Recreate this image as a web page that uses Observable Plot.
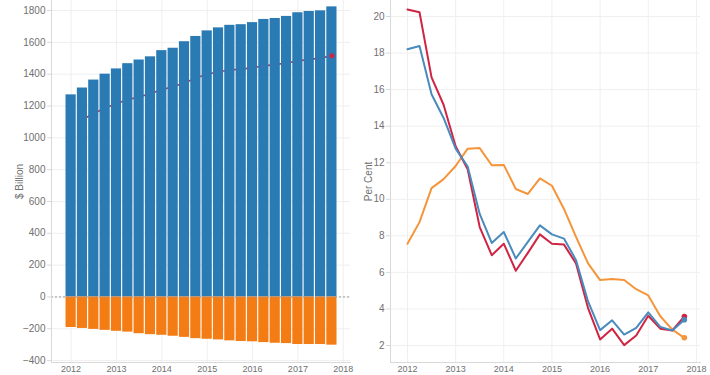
<!DOCTYPE html>
<html>
<head>
<meta charset="utf-8">
<script src="https://cdn.jsdelivr.net/npm/d3@7"></script>
<script src="https://cdn.jsdelivr.net/npm/@observablehq/plot@0.6"></script>
<style>
  html, body { margin: 0; padding: 0; background: #fff; overflow: hidden; }
  #wrap { display: flex; width: 710px; }
  #wrap svg { display: block; }
</style>
</head>
<body>
<div id="wrap"><div id="left"></div><div id="right"></div></div>
<script>
// ---- data (quarterly, 24 quarters) ----
const yearLabels = ["2012", "2013", "2014", "2015", "2016", "2017", "2018"];
const yearTicks = [0, 4, 8, 12, 16, 20, 24];

// left panel ($ Billion)
const positiveBars = [1270, 1313, 1363, 1400, 1433, 1466, 1489, 1509, 1548, 1563, 1604, 1637,
                      1672, 1691, 1707, 1711, 1724, 1744, 1750, 1763, 1786, 1794, 1798, 1823];
const negativeBars = [-192, -198, -204, -210, -216, -221, -231, -237, -241, -247, -254, -262,
                      -266, -270, -276, -280, -282, -287, -291, -293, -299, -299, -299, -303];
const redSeries = [null, 1115, 1153, 1187, 1215, 1240, 1257, 1278, 1302, 1322, 1345, 1376,
                   1400, 1415, 1426, 1432, 1440, 1452, 1460, 1470, 1483, 1493, 1501, 1516];
const leftTicks = [-400, -200, 0, 200, 400, 600, 800, 1000, 1200, 1400, 1600, 1800];

// right panel (Per Cent)
const redGrowth = [20.38, 20.23, 16.67, 15.17, 12.9, 11.64, 8.48, 6.94, 7.57, 6.09, 7.07, 8.08,
                   7.57, 7.52, 6.49, 4.05, 2.33, 2.92, 2.02, 2.55, 3.63, 2.92, 2.82, 3.59];
const blueGrowth = [18.21, 18.39, 15.75, 14.45, 12.77, 11.79, 9.2, 7.61, 8.21, 6.76, 7.67, 8.57,
                    8.08, 7.85, 6.67, 4.41, 2.84, 3.38, 2.6, 2.96, 3.81, 3.02, 2.82, 3.41];
const orangeGrowth = [7.57, 8.75, 10.61, 11.1, 11.82, 12.77, 12.8, 11.86, 11.88, 10.56, 10.29, 11.14,
                      10.74, 9.47, 7.94, 6.49, 5.58, 5.64, 5.58, 5.08, 4.74, 3.6, 2.87, 2.42];
const rightTicks = [2, 4, 6, 8, 10, 12, 14, 16, 18, 20];

// ---- colours / styles ----
const BLUE = "#2a7ab4";
const ORANGE = "#f47c14";
const RED = "#cf2444";
const LBLUE = "#4a8bbd";
const LORANGE = "#f5953b";
const GRID = "#efefef";
const AXIS = "#d9d9d9";
const TXT = "#707070";
const FONT = "'Liberation Sans', Arial, sans-serif";

const idx = d3.range(24);
const fmtYear = d => yearLabels[yearTicks.indexOf(d)] ?? "";
const fmtNum = d3.format("d");

// ---- left chart ----
const barsPos = idx.map(i => ({i, v: positiveBars[i]}));
const barsNeg = idx.map(i => ({i, v: negativeBars[i]}));
const redLine = idx.filter(i => redSeries[i] != null).map(i => ({i, v: redSeries[i]}));
const lastRed = redLine.slice(-1);

const left = Plot.plot({
  width: 355,
  height: 375,
  marginLeft: 51,
  marginRight: 5,
  marginTop: 0,
  marginBottom: 13,
  style: {fontFamily: FONT, fontSize: "10px", color: TXT, background: "#fff"},
  x: {type: "linear", domain: [-1.73, 24.64], axis: null},
  y: {domain: [-412, 1863], axis: null},
  marks: [
    Plot.ruleY(leftTicks, {stroke: GRID}),
    Plot.ruleX(yearTicks, {stroke: GRID}),
    Plot.line(redLine, {x: "i", y: "v", stroke: RED, strokeWidth: 1.6}),
    Plot.rectY(barsPos, {x1: d => d.i - 0.45, x2: d => d.i + 0.45, y1: 0, y2: "v", fill: BLUE}),
    Plot.rectY(barsNeg, {x1: d => d.i - 0.45, x2: d => d.i + 0.45, y1: 0, y2: "v", fill: ORANGE}),
    Plot.ruleY([0], {stroke: "#999", strokeDasharray: "2,2"}),
    Plot.dot(lastRed, {x: "i", y: "v", r: 2.5, fill: RED}),
    Plot.frame({anchor: "left", stroke: AXIS}),
    Plot.frame({anchor: "bottom", stroke: AXIS}),
    Plot.axisY({ticks: leftTicks, tickFormat: fmtNum, tickSize: 4, tickPadding: 2, stroke: AXIS, fill: TXT,
                label: "$ Billion", labelAnchor: "center", labelOffset: 36, labelArrow: "none"}),
    Plot.axisX({ticks: yearTicks, tickFormat: fmtYear, tickSize: 0, tickPadding: 3, fill: TXT,
                fontSize: 9, label: null})
  ]
});
document.getElementById("left").append(left);

// ---- right chart ----
const series = [
  {name: "orange", values: orangeGrowth, color: LORANGE},
  {name: "red", values: redGrowth, color: RED},
  {name: "blue", values: blueGrowth, color: LBLUE}
];
const rows = series.flatMap(s => idx.map(i => ({s: s.name, i, v: s.values[i], c: s.color})));
const lastPts = rows.filter(d => d.i === 23);

const right = Plot.plot({
  width: 355,
  height: 375,
  marginLeft: 35,
  marginRight: 10,
  marginTop: 0,
  marginBottom: 13,
  style: {fontFamily: FONT, fontSize: "10px", color: TXT, background: "#fff"},
  x: {type: "linear", domain: [-1.41, 24.34], axis: null},
  y: {domain: [1.07, 20.875], axis: null},
  marks: [
    Plot.ruleY(rightTicks, {stroke: GRID}),
    Plot.ruleX(yearTicks, {stroke: GRID}),
    Plot.line(rows, {x: "i", y: "v", z: "s", stroke: "c", strokeWidth: 2}),
    Plot.dot(lastPts, {x: "i", y: "v", r: 2.8, fill: "c"}),
    Plot.frame({anchor: "left", stroke: AXIS}),
    Plot.frame({anchor: "bottom", stroke: AXIS}),
    Plot.axisY({ticks: rightTicks, tickFormat: fmtNum, tickSize: 4, tickPadding: 2, stroke: AXIS, fill: TXT,
                label: "Per Cent", labelAnchor: "center", labelOffset: 26, labelArrow: "none"}),
    Plot.axisX({ticks: yearTicks, tickFormat: fmtYear, tickSize: 0, tickPadding: 3, fill: TXT,
                fontSize: 9, label: null})
  ]
});
document.getElementById("right").append(right);
</script>
</body>
</html>
